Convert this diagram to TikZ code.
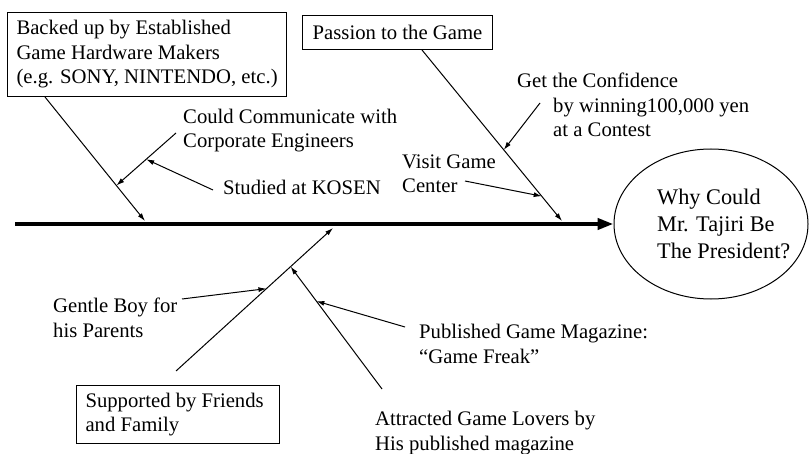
\documentclass[tikz,border=0pt]{standalone}
\usepackage{fontspec}
\setmainfont{Liberation Serif}
\usetikzlibrary{arrows.meta,calc,positioning,shapes.geometric}
\tikzset{
  lbl/.style={anchor=base west, inner sep=0pt, align=left, font=\fontsize{20.7}{24.5}\selectfont},
  causebox/.style={draw, line width=1pt, anchor=north west, inner xsep=9pt, inner ysep=0pt, align=left, font=\fontsize{20.7}{24.5}\selectfont},
  bone/.style={line width=1pt, -{Latex[length=8pt,width=5pt]}},
  spine/.style={line width=4pt, -{Triangle[length=16pt,width=11pt]}}
}

\begin{document}
\begin{tikzpicture}[x=1pt, y=-1pt]
        \useasboundingbox (0,0) rectangle (810,454);
        % The effect (head of the fish)
        \node[ellipse, draw, line width=1pt, minimum width=194pt, minimum height=150pt, inner sep=0pt] (goal) at (711,224) {};
        \node[lbl, font=\fontsize{22.3}{26.5}\selectfont] (question) at (657,258) {Why Could\\Mr. Tajiri Be\\The President?};
        \coordinate (tail) at (15,224);
        \draw[spine] (tail) -- (goal.west);
        % Main causes in boxes
        \node[causebox, minimum width=279pt, minimum height=84pt] (hardware) at (7,12) {Backed up by Established\\Game Hardware Makers\\(e.g. SONY, NINTENDO, etc.)};
        \node[causebox, minimum width=190pt, minimum height=34pt] (passion) at (302,15) {Passion to the Game};
        \node[causebox, minimum width=203pt, minimum height=58pt] (support) at (76,385) {Supported by Friends\hspace*{7pt}\\and Family};
        % Sub-causes as plain labels (position = last baseline)
        \foreach \name/\pos/\txt in {could/{(183,148)}/{Could Communicate with\\Corporate Engineers},
                                     kosen/{(223,195)}/{Studied at KOSEN},
                                     visit/{(402,193)}/{Visit Game\\Center},
                                     confid/{(517,137)}/{Get the Confidence\\\hspace*{36pt}by winning100,000 yen\\\hspace*{36pt}at a Contest},
                                     gentle/{(53,337)}/{Gentle Boy for\\his Parents},
                                     magazine/{(419,363)}/{Published Game Magazine:\\“Game Freak”},
                                     lovers/{(375,450)}/{Attracted Game Lovers by\\His published magazine}} {
            \node[lbl] (\name) at \pos {\txt};
          }
        % Bones onto the spine
        \coordinate (hardwareTip) at (145,221);
        \coordinate (passionTip) at (562,221);
        \coordinate (supportTip) at (333,228);
        \coordinate (hardwareRoot) at ([xshift=38pt]hardware.south west);
        \coordinate (passionRoot) at ([xshift=120pt]passion.south west);
        \coordinate (supportRoot) at ([xshift=100pt,yshift=14pt]support.north west);
        \draw[bone] (hardwareRoot) -- (hardwareTip);
        \draw[bone] (passionRoot) -- (passionTip);
        \draw[bone] (supportRoot) -- (supportTip);
        % Small bones
        \coordinate (couldFrom) at (176,133);
        \coordinate (couldTo) at ($(hardwareRoot)!0.714!(hardwareTip)$);
        \draw[bone] (couldFrom) -- (couldTo);
        \draw[bone] (213,190) coordinate (kosenFrom) -- ($(couldFrom)!0.5!(couldTo)$);
        \draw[bone] (540,103) coordinate (confidFrom) -- ($(passionRoot)!0.584!(passionTip)$);
        \draw[bone] (465,181) coordinate (visitFrom) -- ($(passionRoot)!0.855!(passionTip)$);
        \draw[bone] (182,299) coordinate (gentleFrom) -- ($(supportRoot)!0.576!(supportTip)$);
        \coordinate (loversFrom) at (382,389);
        \coordinate (loversTo) at ($(supportRoot)!0.73!(supportTip)$);
        \draw[bone] (loversFrom) -- (loversTo);
        \draw[bone] (405,327) coordinate (magazineFrom) -- ($(loversFrom)!0.718!(loversTo)$);
      \end{tikzpicture}
\end{document}
